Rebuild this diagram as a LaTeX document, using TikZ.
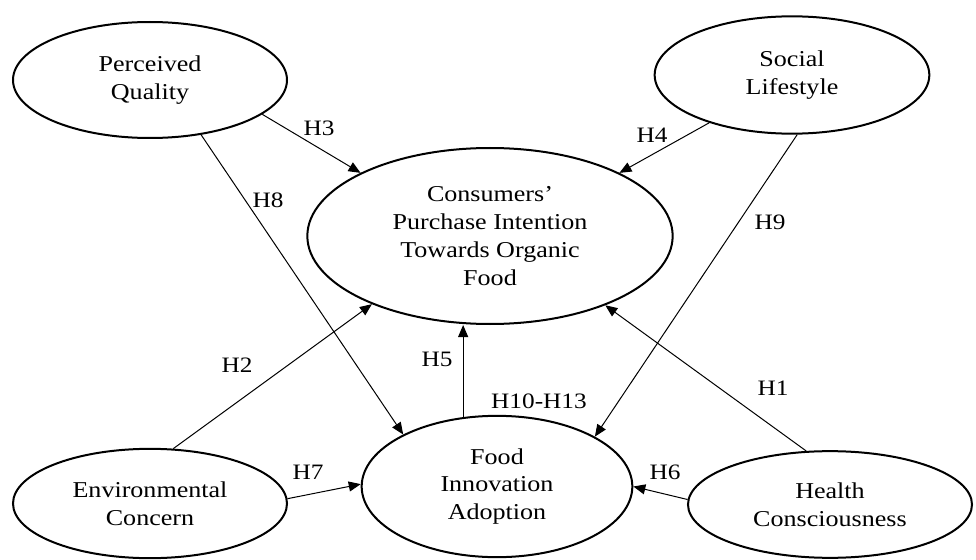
\documentclass[tikz,border=0pt]{standalone}
\usepackage{fontspec}
\setmainfont[FakeStretch=1.15]{Liberation Serif}
\usetikzlibrary{shapes.geometric}
\usetikzlibrary{arrows.meta}

\begin{document}
\begin{tikzpicture}[
    x=0.75pt, y=-0.75pt,
    construct/.style={ellipse, draw, line width=1.5pt, inner sep=0pt, align=center,
      font=\fontsize{17}{20.8}\selectfont},
    path/.style={line width=0.75pt, -{Triangle[length=9pt,width=7.5pt]}},
    hyp/.style={font=\fontsize{16.5}{19}\selectfont, inner sep=0pt},
  ]
  \useasboundingbox (0,0) rectangle (976,560);

  \node[construct, minimum width=205.5pt, minimum height=87pt] (pq) at (150,80) {Perceived\\Quality};
  \node[construct, minimum width=206pt, minimum height=88pt] (sl) at (792,75) {Social\\Lifestyle};
  \node[construct, minimum width=274pt, minimum height=132pt] (cpi) at (490,236)
    {Consumers'\\Purchase Intention\\Towards Organic\\Food};
  \node[construct, minimum width=203pt, minimum height=106pt] (fia) at (497,486.5)
    {Food\\Innovation\\Adoption};
  \node[construct, minimum width=205.5pt, minimum height=82pt] (ec) at (150,503.5) {Environmental\\Concern};
  \node[construct, minimum width=213pt, minimum height=80pt] (hc) at (830,504.5) {Health\\Consciousness};

  \draw[path] (pq.-17.4) -- (cpi.154.6);
  \draw[path] (pq.-47) -- (fia.151.8);
  \draw[path] (sl.-150.8) -- (cpi.26.9);
  \draw[path] (sl.-85) -- (fia.27);
  \draw[path] (ec.67) -- (cpi.210.3);
  \draw[path] (fia.116.6) -- (fia.116.6 |- cpi.south);
  \draw[path] (hc.114.8) -- (cpi.-31.6);
  \draw[path] (ec.2.9) -- (fia.179.6);
  \draw[path] (hc.178.8) -- (fia.0.8);

  \node[hyp] (h3) at (319,128) {H3};
  \node[hyp] (h8) at (268,200) {H8};
  \node[hyp] (h4) at (652,135) {H4};
  \node[hyp] (h9) at (770,222) {H9};
  \node[hyp] (h2) at (237,365) {H2};
  \node[hyp] (h5) at (437,359) {H5};
  \node[hyp] (h10) at (539,401) {H10-H13};
  \node[hyp] (h1) at (773,388) {H1};
  \node[hyp] (h7) at (308,472) {H7};
  \node[hyp] (h6) at (665,472) {H6};
\end{tikzpicture}
\end{document}
